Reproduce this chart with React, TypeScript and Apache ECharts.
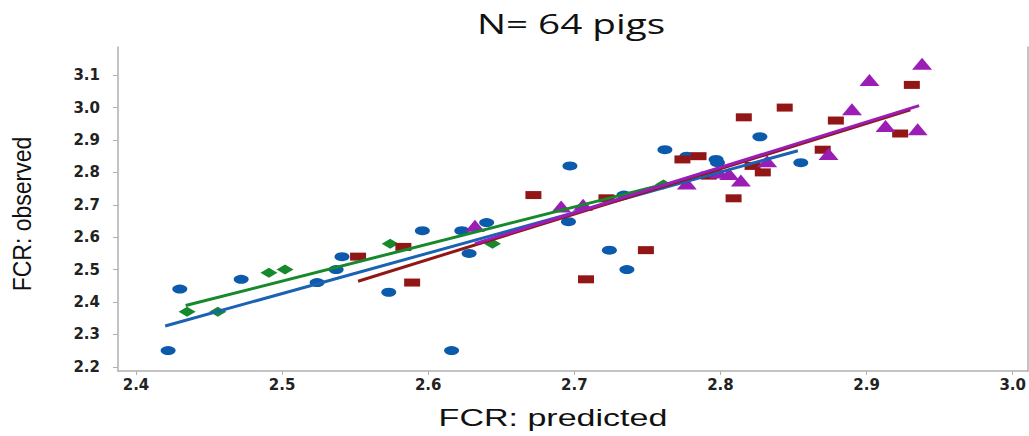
import React, { useEffect, useRef } from "react";
import * as echarts from "echarts";

const xTicks = [2.4, 2.5, 2.6, 2.7, 2.8, 2.9, 3.0];
const yTicks = [2.2, 2.3, 2.4, 2.5, 2.6, 2.7, 2.8, 2.9, 3.0, 3.1];

const blueX = [2.422, 2.430, 2.472, 2.524, 2.537, 2.541, 2.573, 2.596, 2.616, 2.623, 2.628, 2.640, 2.697, 2.696, 2.724, 2.734, 2.736, 2.762, 2.777, 2.797, 2.798, 2.827, 2.855];
const blueY = [2.25, 2.44, 2.47, 2.46, 2.50, 2.54, 2.43, 2.62, 2.25, 2.62, 2.55, 2.645, 2.82, 2.648, 2.56, 2.73, 2.50, 2.87, 2.85, 2.84, 2.83, 2.91, 2.83];

const greenX = [2.435, 2.456, 2.491, 2.502, 2.574, 2.644, 2.761];
const greenY = [2.37, 2.37, 2.49, 2.50, 2.58, 2.58, 2.763];

const redX = [2.552, 2.583, 2.589, 2.672, 2.708, 2.722, 2.749, 2.774, 2.785, 2.792, 2.809, 2.816, 2.822, 2.829, 2.844, 2.870, 2.879, 2.923, 2.931];
const redY = [2.54, 2.57, 2.46, 2.73, 2.47, 2.72, 2.56, 2.84, 2.85, 2.79, 2.72, 2.97, 2.82, 2.80, 3.00, 2.87, 2.96, 2.92, 3.07];

const purpleX = [2.632, 2.691, 2.706, 2.777, 2.799, 2.806, 2.814, 2.832, 2.874, 2.890, 2.902, 2.913, 2.935, 2.938];
const purpleY = [2.635, 2.695, 2.70, 2.766, 2.80, 2.795, 2.775, 2.834, 2.857, 2.995, 3.085, 2.943, 2.933, 3.135];

const blueFitX = [2.42, 2.853];
const blueFitY = [2.326, 2.867];
const greenFitX = [2.434, 2.761];
const greenFitY = [2.389, 2.763];
const redFitX = [2.552, 2.93];
const redFitY = [2.464, 2.993];
const purpleFitX = [2.632, 2.936];
const purpleFitY = [2.58, 3.006];

const BLUE = "#0b5aab";
const GREEN = "#15892b";
const RED = "#931616";
const PURPLE = "#9a1db6";

const zip = (xs: number[], ys: number[]) => xs.map((x, i) => [x, ys[i]]);

export default function App() {
  const ref = useRef<HTMLDivElement>(null);
  useEffect(() => {
    if (!ref.current) return;
    const chart = echarts.init(ref.current, null, { renderer: "svg" });
    const scatter = (name: string, xs: number[], ys: number[], symbol: string, size: number[], color: string) => ({
      name,
      type: "scatter",
      data: zip(xs, ys),
      symbol,
      symbolSize: size,
      itemStyle: { color, opacity: 1 },
      z: 2,
    });
    const fit = (name: string, xs: number[], ys: number[], color: string, z: number) => ({
      name,
      type: "line",
      data: zip(xs, ys),
      symbol: "none",
      lineStyle: { color, width: 3 },
      z,
    });
    const axisLabelStyle = {
      fontFamily: "DejaVu Sans",
      fontWeight: "bold",
      fontSize: 15,
      color: "#222",
    };
    chart.setOption({
      animation: false,
      backgroundColor: "#ffffff",
      grid: { left: 118, right: 1, top: 47, bottom: 65 },
      xAxis: {
        type: "value",
        min: 2.3877,
        max: 3.0105,
        splitLine: { show: false },
        axisLine: { show: true, lineStyle: { color: "#b0b0b0", width: 1.5 } },
        axisTick: { show: true, customValues: xTicks, length: 4, lineStyle: { color: "#b0b0b0" } },
        axisLabel: { ...axisLabelStyle, customValues: xTicks, margin: 6, formatter: (v: number) => v.toFixed(1) },
      },
      yAxis: [
        {
          type: "value",
          min: 2.187,
          max: 3.187,
          splitLine: { show: false },
          axisLine: { show: true, lineStyle: { color: "#b0b0b0", width: 1.5 } },
          axisTick: { show: true, customValues: yTicks, length: 5, lineStyle: { color: "#b0b0b0" } },
          axisLabel: { ...axisLabelStyle, customValues: yTicks, margin: 18, formatter: (v: number) => v.toFixed(1) },
        },
        {
          type: "value",
          position: "right",
          min: 2.187,
          max: 3.187,
          splitLine: { show: false },
          axisLine: { show: true, lineStyle: { color: "#b0b0b0", width: 1.5 } },
          axisTick: { show: false },
          axisLabel: { show: false },
        },
      ],
      graphic: [
        {
          type: "text",
          x: 571,
          y: 23,
          scaleX: 1.38,
          style: {
            text: "N= 64 pigs",
            fontFamily: "Open Sans",
            fontSize: 28,
            fill: "#111",
            align: "center",
            verticalAlign: "middle",
          },
        },
        {
          type: "text",
          x: 553,
          y: 418,
          scaleX: 1.48,
          style: {
            text: "FCR: predicted",
            fontFamily: "Liberation Sans",
            fontSize: 23,
            fill: "#111",
            align: "center",
            verticalAlign: "middle",
          },
        },
        {
          type: "text",
          x: 22,
          y: 214,
          rotation: Math.PI / 2,
          scaleY: 1.15,
          style: {
            text: "FCR: observed",
            fontFamily: "Liberation Sans",
            fontSize: 23,
            fill: "#111",
            align: "center",
            verticalAlign: "middle",
          },
        },
      ],
      series: [
        scatter("blue", blueX, blueY, "circle", [15, 9], BLUE),
        scatter("green", greenX, greenY, "diamond", [17, 10], GREEN),
        scatter("red", redX, redY, "rect", [16, 8], RED),
        scatter("purple", purpleX, purpleY, "triangle", [20, 12], PURPLE),
        fit("blueFit", blueFitX, blueFitY, "#1a62b3", 3),
        fit("greenFit", greenFitX, greenFitY, GREEN, 4),
        fit("redFit", redFitX, redFitY, RED, 5),
        fit("purpleFit", purpleFitX, purpleFitY, PURPLE, 6),
      ],
    });
    return () => chart.dispose();
  }, []);
  return (
    <div
      ref={ref}
      style={{ position: "fixed", left: 0, top: 0, width: 1029, height: 436, background: "#fff" }}
    />
  );
}
